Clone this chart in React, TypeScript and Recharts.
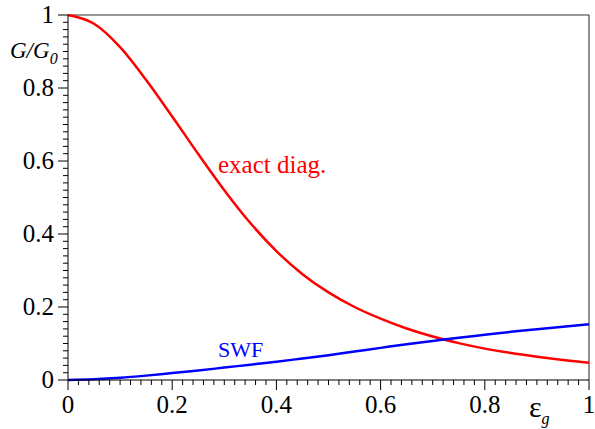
import { LineChart, Line, XAxis, YAxis, ReferenceLine } from 'recharts';

// eps_g values (shared x grid)
const epsValues = [0, 0.05, 0.1, 0.15, 0.2, 0.25, 0.3, 0.35, 0.4, 0.45, 0.5, 0.55, 0.6, 0.65, 0.7, 0.75, 0.8, 0.85, 0.9, 0.95, 1.0];
const exactDiag = [1.0, 0.976, 0.912, 0.822, 0.722, 0.619, 0.52, 0.43, 0.353, 0.29, 0.24, 0.2, 0.168, 0.141, 0.119, 0.101, 0.086, 0.074, 0.064, 0.055, 0.047];
const swf = [0, 0.002, 0.006, 0.012, 0.019, 0.026, 0.034, 0.042, 0.05, 0.059, 0.068, 0.078, 0.088, 0.098, 0.107, 0.116, 0.124, 0.132, 0.139, 0.146, 0.153];

const majorTicks = [0, 0.2, 0.4, 0.6, 0.8, 1];
const minorTicks = Array.from({ length: 51 }, (_, i) => (i * 2) / 100);

const data = epsValues.map((e, i) => ({ eps: e, exact: exactDiag[i], swf: swf[i] }));

const FONT = 'Liberation Serif, Times New Roman, DejaVu Serif, serif';

const isMajor = (v: number) => majorTicks.some((m) => Math.abs(m - v) < 1e-6);
const fmt = (v: number) => String(Math.round(v * 10) / 10);

const XTick = ({ x, y, payload }: any) => {
  const major = isMajor(payload.value);
  return (
    <g>
      <line x1={x} x2={x} y1={y} y2={y + (major ? 10 : 5)} stroke="#000" strokeWidth={1} />
      {major && (
        <text x={x} y={y + 33} textAnchor="middle" style={{ fontFamily: FONT, fontSize: 25 }} fill="#000">
          {fmt(payload.value)}
        </text>
      )}
    </g>
  );
};

const YTick = ({ x, y, payload }: any) => {
  const major = isMajor(payload.value);
  return (
    <g>
      <line x1={x - (major ? 10 : 5)} x2={x} y1={y} y2={y} stroke="#000" strokeWidth={1} />
      {major && (
        <text x={x - 14} y={y + 8} textAnchor="end" style={{ fontFamily: FONT, fontSize: 25 }} fill="#000">
          {fmt(payload.value)}
        </text>
      )}
    </g>
  );
};

const App = () => {
  return (
    <div style={{ position: 'absolute', left: 0, top: 0, width: 595, height: 429, background: '#fff' }}>
      <LineChart width={595} height={429} data={data} margin={{ top: 15, right: 6, left: 0, bottom: 18 }}>
        <XAxis
          dataKey="eps"
          type="number"
          domain={[0, 1]}
          ticks={minorTicks}
          interval={0}
          tick={<XTick />}
          tickLine={false}
          tickSize={0}
          tickMargin={0}
          height={31}
          stroke="#000"
        />
        <YAxis
          type="number"
          domain={[0, 1]}
          ticks={minorTicks}
          interval={0}
          tick={<YTick />}
          tickLine={false}
          tickSize={0}
          tickMargin={0}
          width={68}
          stroke="#000"
        />
        <ReferenceLine y={1} stroke="#333" strokeWidth={1} />
        <ReferenceLine x={1} stroke="#222" strokeWidth={1} />
        <Line
          type="monotone"
          dataKey="exact"
          stroke="#ff0000"
          strokeWidth={2.5}
          dot={false}
          isAnimationActive={false}
        />
        <Line
          type="monotone"
          dataKey="swf"
          stroke="#0000ff"
          strokeWidth={2.5}
          dot={false}
          isAnimationActive={false}
        />
      </LineChart>
      <svg
        width={595}
        height={429}
        style={{ position: 'absolute', left: 0, top: 0, pointerEvents: 'none', fontFamily: FONT }}
      >
        <text x={10} y={58} fontSize={23} fontStyle="italic" fill="#000">
          G/G
          <tspan fontSize={16} dy={6}>0</tspan>
        </text>
        <text x={529} y={417} fontSize={30} fill="#000">
          ε
          <tspan fontSize={16} fontStyle="italic" dy={7}>g</tspan>
        </text>
        <text x={218} y={173} fontSize={25} fill="#ff0000">
          exact diag.
        </text>
        <text x={218} y={357} fontSize={22} fill="#0000ff">
          SWF
        </text>
      </svg>
    </div>
  );
};

export default App;
